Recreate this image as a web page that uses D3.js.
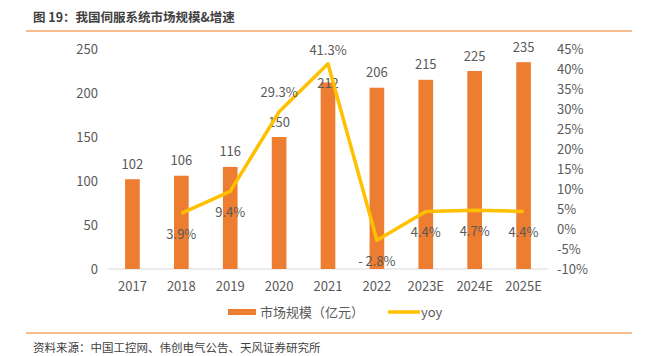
<!DOCTYPE html>
<html><head><meta charset="utf-8">
<script src="https://cdn.jsdelivr.net/npm/d3@7/dist/d3.min.js"></script>
<style>body{margin:0;background:#fff}svg{display:block}text{font-family:"Noto Sans CJK SC","Noto Sans",sans-serif}</style>
</head><body>
<svg id="c" width="653" height="356"></svg>
<script>
const categories = ["2017","2018","2019","2020","2021","2022","2023E","2024E","2025E"];
const marketSize = [102,106,116,150,212,206,215,225,235];
const yoy = [null,3.9,9.4,29.3,41.3,-2.8,4.4,4.7,4.4];
const leftTicks = [0,50,100,150,200,250];
const rightTicks = [-10,-5,0,5,10,15,20,25,30,35,40,45];
const title = "图 19：我国伺服系统市场规模&增速";
const source = "资料来源：中国工控网、伟创电气公告、天风证券研究所";
const legendLabels = ["市场规模（亿元）","yoy"];

const svg = d3.select("#c");
const gray = "#595959";
const barColor = "#ED7D31", lineColor = "#FFC000";

svg.append("text").attr("x",33).attr("y",22).attr("font-size",12.5).attr("font-weight","bold").attr("fill","#404040").text(title);
svg.append("line").attr("x1",26).attr("x2",632).attr("y1",31).attr("y2",31).attr("stroke","#F2A765").attr("stroke-width",1.5);
svg.append("line").attr("x1",26).attr("x2",632).attr("y1",333).attr("y2",333).attr("stroke","#F2A765").attr("stroke-width",1.5);
svg.append("text").attr("x",33).attr("y",352).attr("font-size",11.5).attr("fill","#404040").text(source);

const x = d3.scaleBand().domain(categories).range([108,548]).paddingInner(0.7).paddingOuter(0.35);
const xc = d => x(d) + x.bandwidth()/2;
const yL = d3.scaleLinear().domain([0,250]).range([269,49]);
const yR = d3.scaleLinear().domain([-10,45]).range([269,49]);

// baseline
svg.append("line").attr("x1",108).attr("x2",548).attr("y1",yL(0)).attr("y2",yL(0)).attr("stroke","#D9D9D9").attr("stroke-width",1);

// left axis labels
svg.append("g").selectAll("text").data(leftTicks).join("text")
  .attr("x",98).attr("y",d=>yL(d)).attr("dy","0.35em").attr("text-anchor","end")
  .attr("font-size",13).attr("fill",gray).text(d=>d);
// right axis labels
svg.append("g").selectAll("text").data(rightTicks).join("text")
  .attr("x",557).attr("y",d=>yR(d)).attr("dy","0.35em").attr("text-anchor","start")
  .attr("font-size",13).attr("fill",gray).text(d=>d+"%");
// x labels
svg.append("g").selectAll("text").data(categories).join("text")
  .attr("x",d=>xc(d)).attr("y",286).attr("dy","0.35em").attr("text-anchor","middle")
  .attr("font-size",13).attr("fill",gray).text(d=>d);

// bars
svg.append("g").selectAll("rect").data(categories).join("rect")
  .attr("x",d=>x(d)).attr("width",x.bandwidth())
  .attr("y",(d,i)=>yL(marketSize[i])).attr("height",(d,i)=>yL(0)-yL(marketSize[i]))
  .attr("fill",barColor);
// bar labels
svg.append("g").selectAll("text").data(categories).join("text")
  .attr("x",d=>xc(d)).attr("y",(d,i)=>yL(marketSize[i]) - (i===4 ? -1 : 15)).attr("dy","0.35em")
  .attr("text-anchor","middle").attr("font-size",13).attr("fill",gray).text((d,i)=>marketSize[i]);

// line
const pts = categories.map((c,i)=>({c,v:yoy[i]})).filter(d=>d.v!==null);
svg.append("path").datum(pts)
  .attr("d",d3.line().x(d=>xc(d.c)).y(d=>yR(d.v)))
  .attr("fill","none").attr("stroke",lineColor).attr("stroke-width",3.5).attr("stroke-linejoin","round");
// line labels
svg.append("g").selectAll("text").data(pts).join("text")
  .attr("x",d=>xc(d.c)).attr("y",d=>yR(d.v) + (d.v>20 ? (d.v>35?-13:-19) : 21)).attr("dy","0.35em")
  .attr("text-anchor","middle").attr("font-size",13).attr("fill",gray)
  .text(d=>(d.v<0?"- "+Math.abs(d.v).toFixed(1):d.v.toFixed(1))+"%");

// legend
const lg = svg.append("g");
lg.append("rect").attr("x",228).attr("y",309).attr("width",28).attr("height",6).attr("fill",barColor);
lg.append("text").attr("x",260).attr("y",312).attr("dy","0.35em").attr("font-size",13).attr("fill",gray).text(legendLabels[0]);
lg.append("line").attr("x1",388).attr("x2",420).attr("y1",312).attr("y2",312).attr("stroke",lineColor).attr("stroke-width",3.5);
lg.append("text").attr("x",421).attr("y",312).attr("dy","0.35em").attr("font-size",13).attr("fill",gray).text(legendLabels[1]);
</script>
</body></html>
